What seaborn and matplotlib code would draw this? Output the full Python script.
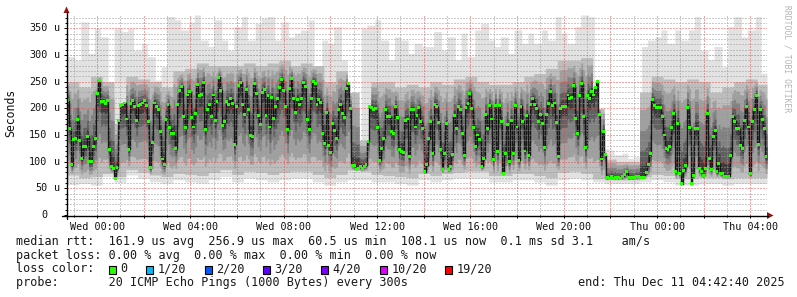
import numpy as np
import pandas as pd
import matplotlib
matplotlib.use("Agg")
import matplotlib.pyplot as plt
import matplotlib.dates as mdates
import matplotlib.ticker as mticker
import matplotlib.transforms as mtrans
from matplotlib.lines import Line2D
from matplotlib.patches import Polygon, Rectangle
import seaborn as sns

# ---------------- data (microseconds) ----------------
median_us = [
    214,162,94,142,144,179,140,106,128,129,
    148,100,100,129,143,227,252,212,213,209,
    214,123,91,88,69,89,177,205,208,210,
    180,123,209,214,203,178,206,208,210,214,
    206,175,89,136,210,203,197,156,105,94,
    179,207,164,152,152,124,207,233,241,184,
    164,225,231,182,165,190,244,224,226,249,
    161,197,207,185,225,177,213,258,234,168,
    175,213,207,218,209,133,204,242,249,207,
    188,236,198,149,147,246,227,187,170,230,
    236,187,224,165,220,181,203,218,239,254,
    233,204,161,237,256,218,193,217,207,218,
    249,241,179,160,218,251,246,208,216,211,
    152,134,193,131,118,171,158,144,198,207,
    190,183,238,246,199,93,93,86,88,91,
    88,91,94,138,203,201,197,199,164,103,
    124,144,197,185,184,156,152,204,183,122,
    119,117,177,180,110,197,197,165,187,201,
    175,162,81,94,143,176,115,208,203,173,
    122,86,116,172,86,91,113,187,162,204,
    198,153,111,201,209,228,200,164,128,150,
    142,91,106,188,162,206,180,104,206,119,
    206,175,78,115,170,100,177,115,206,165,
    103,204,176,120,187,112,207,218,207,199,
    175,188,172,126,189,209,232,205,210,174,
    109,199,204,204,204,225,218,221,242,181,
    152,224,246,184,126,224,218,231,225,239,
    250,189,105,156,113,70,69,73,69,70,
    69,70,69,73,76,81,70,71,70,71,
    73,73,70,70,71,79,94,115,216,206,
    201,201,202,184,150,124,122,129,164,191,
    81,172,77,59,83,92,201,164,59,74,
    162,162,88,81,74,88,191,106,86,148,
    158,81,96,78,77,73,73,73,111,184,
    176,162,162,131,124,178,204,165,77,175,
    197,224,133,198,179,162,109,
]

smoke_max_us = [
    297,290,362,303,350,334,230,350,344,350,
    309,322,297,253,278,372,366,347,362,375,
    328,316,366,328,309,353,372,328,359,369,
    372,328,362,334,341,347,366,259,328,322,
    353,291,147,141,350,356,366,328,291,334,
    328,303,
    322,316,316,344,309,334,291,341,297,347,
    359,328,316,334,303,347,322,341,322,347,
    328,372,341,322,353,375,372,128,125,122,
    113,116,106,109,316,328,334,347,322,347,
    328,347,372,309,291,316,278,353,372,334,
    347,372,266,
]

smoke_min_us = [
    57,59,56,72,61,75,69,62,59,66,62,60,66,72,62,
    69,66,62,66,69,69,62,56,62,66,66,62,62,59,56,
    66,62,66,69,69,69,62,62,66,66,62,56,66,69,66,
    62,59,59,59,62,66,62,56,56,59,59,56,59,59,59,
]

smoke_qhi_us = [
    250,240,260,250,170,260,255,250,240,270,275,285,280,280,280,
    285,280,285,290,280,285,280,250,270,230,140,250,250,240,245,
    240,250,245,255,260,250,245,245,250,260,265,275,290,290,295,
    200,105,100,100,230,260,255,250,255,250,230,240,250,255,245,
]

smoke_qlo_us = [
    75,70,72,78,72,85,80,75,72,78,76,74,80,85,76,
    82,80,76,80,82,82,76,70,76,84,82,76,74,72,70,
    78,74,78,80,82,82,74,74,78,78,74,70,80,82,78,
    68,66,66,66,72,76,74,68,68,70,70,68,70,70,70,
]

y_ticks = [0, 50, 100, 150, 200, 250, 300, 350]
loss_labels = ["0", "1/20", "2/20", "3/20", "4/20", "10/20", "19/20"]
loss_colors = ["#26ff00", "#00b8ff", "#0059ff", "#5e00ff", "#7e00ff", "#dd00ff", "#ff0000"]

stats_rtt = "median rtt:  161.9 us avg  256.9 us max  60.5 us min  108.1 us now  0.1 ms sd 3.1    am/s"
stats_loss = "packet loss: 0.00 % avg  0.00 % max  0.00 % min  0.00 % now"
probe_text = "probe:       20 ICMP Echo Pings (1000 Bytes) every 300s"
end_text = "end: Thu Dec 11 04:42:40 2025"
start = pd.Timestamp("2025-12-09 22:42:40")
end = pd.Timestamp("2025-12-11 04:42:40")

# ---------------- figure ----------------
sns.set_theme(style="white")
plt.rcParams['font.family'] = ['DejaVu Sans Mono', 'DejaVu Sans']

W, H = 797, 297
fig = plt.figure(figsize=(W / 100, H / 100), dpi=100)
fig.patch.set_facecolor("white")
L, R, T, B = 67, 767, 15, 215
ax = fig.add_axes([L / W, 1 - B / H, (R - L) / W, (B - T) / H])
ax.set_facecolor("white")

t0 = mdates.date2num(start)
t1 = mdates.date2num(end)


def step_band(lo, hi, color, z):
    lo = np.asarray(lo, float)
    hi = np.asarray(hi, float)
    e = np.linspace(t0, t1, len(lo) + 1)
    ax.fill_between(e, np.append(lo, lo[-1]), np.append(hi, hi[-1]), step="post",
                    color=color, lw=0, zorder=z)


med = np.asarray(median_us, float)
n = len(med)


def per_step(arr):
    # look up the coarse smoke column that each 5-minute step falls into
    arr = np.asarray(arr, float)
    idx = (np.arange(n) * len(arr)) // n
    return arr[idx]


hi = per_step(smoke_max_us)
lo = per_step(smoke_min_us)
qhi = per_step(smoke_qhi_us)
qlo = per_step(smoke_qlo_us)

# smoke shades, lightest (outer pings) to darkest (pings near the median)
step_band(lo, hi, "#e2e2e2", 1.0)
step_band(qlo, qhi, "#bdbdbd", 1.1)
for frac, col, z in [(0.8, "#a0a0a0", 1.2), (0.55, "#828282", 1.3),
                     (0.32, "#606060", 1.4), (0.14, "#3c3c3c", 1.5)]:
    step_band(med - frac * np.clip(med - qlo, 0, None),
              med + frac * np.clip(qhi - med, 0, None), col, z)

dt = (t1 - t0) / n
tc = t0 + (np.arange(n) + 0.5) * dt
df = pd.DataFrame({"t": tc, "median": med})
sns.lineplot(data=df, x="t", y="median", ax=ax, drawstyle="steps-mid",
             color="#161616", lw=1.0, zorder=1.8)
sns.scatterplot(data=df, x="t", y="median", ax=ax, marker="s", s=4.5,
                color="#26ff00", edgecolor="none", linewidth=0, zorder=3, legend=False)

ax.set_xlim(t0, t1)
ax.set_ylim(0, 375)
ax.set_xlabel("")
ax.set_ylabel("")

# grid
ax.xaxis.set_major_locator(mdates.HourLocator(byhour=range(0, 24, 2)))
ax.xaxis.set_minor_locator(mdates.HourLocator())


def xfmt(x, pos):
    d = mdates.num2date(x)
    return d.strftime("%a %H:%M") if d.hour % 4 == 0 and d.minute == 0 else ""


ax.xaxis.set_major_formatter(mticker.FuncFormatter(xfmt))
ax.yaxis.set_major_locator(mticker.MultipleLocator(50))
ax.yaxis.set_minor_locator(mticker.MultipleLocator(10))
ax.yaxis.set_major_formatter(mticker.NullFormatter())

ax.set_axisbelow(False)
ax.grid(which="minor", color=(0.6, 0.6, 0.6, 0.28), lw=0.72, ls=(0, (1, 2)))
ax.grid(which="major", color=(0.9, 0.3, 0.3, 0.3), lw=0.72, ls=(0, (1, 2)))
for sp in ax.spines.values():
    sp.set_visible(False)

ax.tick_params(axis="x", which="both", direction="out", bottom=True, length=2,
               width=0.7, color="black", pad=3, labelsize=7.3, labelcolor="#111111")
ax.tick_params(axis="y", which="both", direction="out", left=True, length=2,
               width=0.7, color="black")
ax.tick_params(axis="y", which="minor", length=1.2)
ax.tick_params(axis="x", which="minor", length=1.2)

# y tick labels
tr = mtrans.blended_transform_factory(fig.transFigure, ax.transData)
for v in y_ticks:
    ax.text(47.5 / W, v, f"{v}", transform=tr, ha="right", va="center",
            fontsize=7.3, color="#111111", clip_on=False)
    if v != 0:
        ax.text(54.5 / W, v, "u", transform=tr, ha="left", va="center",
                fontsize=7.3, color="#111111", clip_on=False)


def fx(px):
    return px / W


def fy(py):
    return 1 - py / H


# axis lines and arrows
fig.add_artist(Line2D([fx(62), fx(768)], [fy(215.5), fy(215.5)], color="black", lw=1.0))
fig.add_artist(Line2D([fx(66.5), fx(66.5)], [fy(219), fy(12)], color="black", lw=1.0))
fig.add_artist(Polygon([(fx(767), fy(212)), (fx(773.5), fy(215.5)), (fx(767), fy(219))],
                       closed=True, color="#9b1010", lw=0))
fig.add_artist(Polygon([(fx(63.5), fy(13)), (fx(66.5), fy(6.5)), (fx(69.5), fy(13))],
                       closed=True, color="#9b1010", lw=0))

# labels
fig.text(fx(11), fy(113), "Seconds", rotation=90, ha="center", va="center",
         fontsize=8.3, color="#111111")
fig.text(fx(787), fy(59), "RRDTOOL / TOBI OETIKER", rotation=270, ha="center",
         va="center", fontsize=5.8, color="#b4b4b4")

LFS = 8.5
TXT = "#1a1a1a"
fig.text(fx(16), fy(241), stats_rtt, ha="left", va="center", fontsize=LFS, color=TXT)
fig.text(fx(16), fy(255.5), stats_loss, ha="left", va="center", fontsize=LFS, color=TXT)
fig.text(fx(16), fy(269), "loss color:", ha="left", va="center", fontsize=LFS, color=TXT)
fig.text(fx(16), fy(282.5), probe_text, ha="left", va="center", fontsize=LFS, color=TXT)
fig.text(fx(578), fy(282.5), end_text, ha="left", va="center", fontsize=LFS, color=TXT)

cw = 7.1
xb = 109.0
for lab, col in zip(loss_labels, loss_colors):
    fig.add_artist(Rectangle((fx(xb), fy(273.5)), 7 / W, 8 / H, facecolor=col,
                             edgecolor="black", lw=0.8))
    fig.text(fx(xb + 11.5), fy(269), lab, ha="left", va="center", fontsize=LFS,
             color=TXT)
    xb += 12 + len(lab) * cw + 18

fig.savefig("out.png", dpi=100, facecolor="white")
